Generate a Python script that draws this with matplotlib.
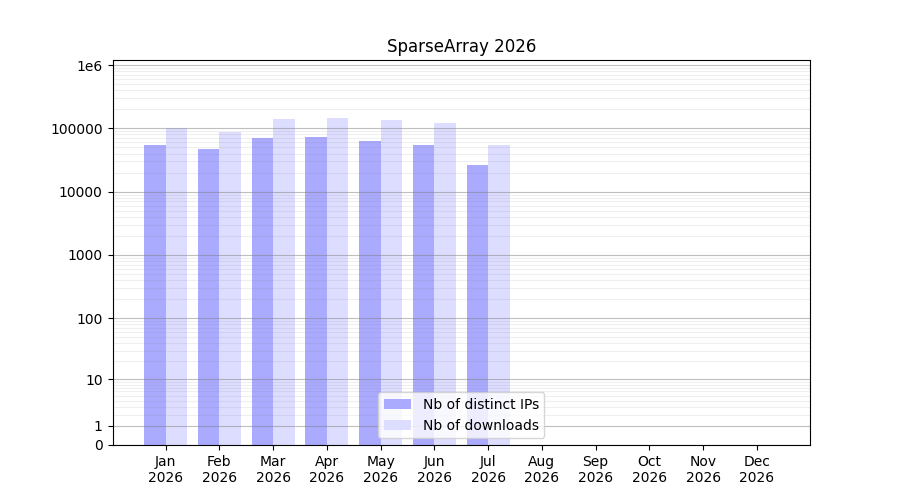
import numpy as np
import matplotlib
matplotlib.use("Agg")
import matplotlib.pyplot as plt

months = ["Jan", "Feb", "Mar", "Apr", "May", "Jun", "Jul", "Aug", "Sep", "Oct", "Nov", "Dec"]
year = "2026"
ips = [54600, 47200, 70400, 73000, 62400, 54000, 26400, 0, 0, 0, 0, 0]
downloads = [100000, 87500, 140500, 145600, 135500, 121000, 54600, 0, 0, 0, 0, 0]
yticks = [0, 1, 10, 100, 1000, 10000, 100000, 1000000]
ytick_labels = ["0", "1", "10", "100", "1000", "10000", "100000", "1e6"]


def fwd(v):
    return np.log10(1 + np.clip(v, 0, None))


def inv(v):
    return 10 ** np.asarray(v) - 1


fig, ax = plt.subplots(figsize=(9, 5), dpi=100)
x = np.arange(len(months))
w = 0.4

ax.bar(x - w / 2, ips, width=w, color="#aaaaff", label="Nb of distinct IPs")
ax.bar(x + w / 2, downloads, width=w, color="#ddddff", label="Nb of downloads")

ax.set_yscale("function", functions=(fwd, inv))
ax.set_ylim(0, 1.2e6)
ax.set_yticks(yticks)
ax.set_yticklabels(ytick_labels)

minor = [m * 10 ** k for k in range(0, 6) for m in range(2, 10)]
ax.set_yticks(minor, minor=True)
ax.tick_params(axis="y", which="minor", length=0)

ax.grid(axis="y", which="major", color="gray", alpha=0.5)
ax.grid(axis="y", which="minor", color="gray", alpha=0.12)

ax.set_xticks(x)
ax.set_xticklabels([m + "\n" + year for m in months])

ax.set_title("SparseArray 2026")
ax.legend(loc="lower center")

fig.savefig("out.png")
